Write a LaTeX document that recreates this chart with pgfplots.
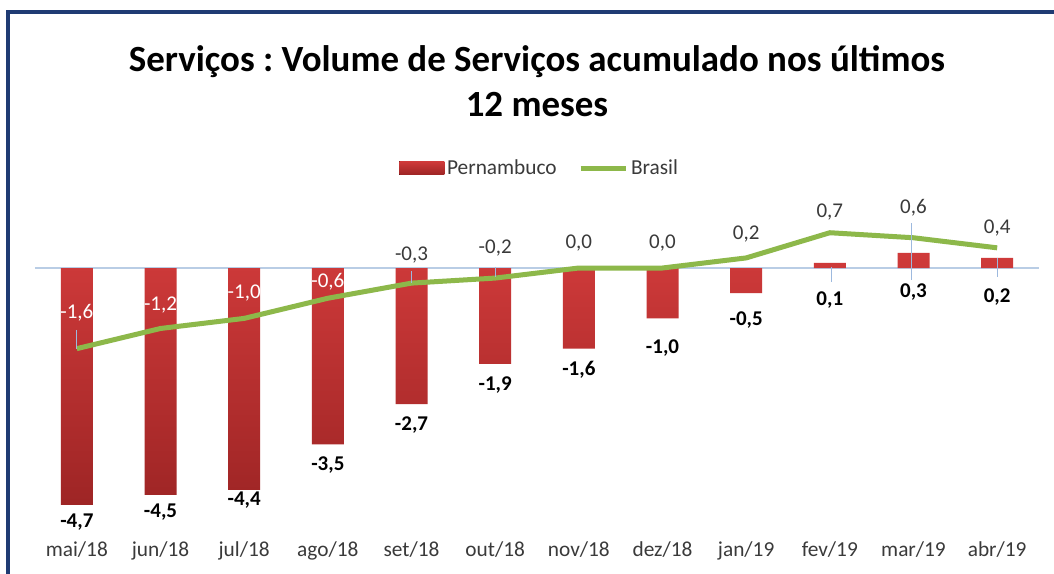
\documentclass[border=0pt]{standalone}
\usepackage{pgfplots}
\usepackage{pgfplotstable}
\pgfplotsset{compat=1.18}
\usepackage{fontspec}
\setmainfont{Carlito}
\frenchspacing
\definecolor{frame}{HTML}{1F3B73}
\definecolor{barTop}{HTML}{CF3A3A}
\definecolor{barBot}{HTML}{9E2525}
\definecolor{brgreen}{HTML}{8DB84A}
\definecolor{zline}{HTML}{B9CDE5}
\definecolor{leader}{HTML}{9DB9DE}
\definecolor{lab}{HTML}{3A3A3A}
\pgfplotstableread{
x pe br pel brl pes brs
0 -4.7 -1.6 -5.04 -0.89 -4,7 -1,6
1 -4.5 -1.2 -4.84 -0.73 -4,5 -1,2
2 -4.4 -1.0 -4.60 -0.50 -4,4 -1,0
3 -3.5 -0.6 -3.91 -0.28 -3,5 -0,6
4 -2.7 -0.3 -3.12 0.26 -2,7 -0,3
5 -1.9 -0.2 -2.32 0.40 -1,9 -0,2
6 -1.6 0.0 -2.02 0.50 -1,6 0,0
7 -1.0 0.0 -1.59 0.50 -1,0 0,0
8 -0.5 0.2 -1.03 0.67 -0,5 0,2
9 0.1 0.7 -0.63 1.11 0,1 0,7
10 0.3 0.6 -0.48 1.19 0,3 0,6
11 0.2 0.4 -0.58 0.79 0,2 0,4
}\data
\begin{document}
\begin{tikzpicture}[x=0.75pt,y=0.75pt]
\useasboundingbox (0,0) rectangle (1054,574);
\fill[white] (0,0) rectangle (1054,574);
\draw[frame, line width=2.5pt] (8,562) rectangle (1080,-30);
\node[font=\fontsize{27.7}{32}\selectfont\bfseries] at (537,512) {Serviços : Volume de Serviços acumulado nos últimos};
\node[font=\fontsize{27.7}{32}\selectfont\bfseries] at (537,469) {12 meses};
\begin{axis}[
  at={(26.25pt,40.5pt)}, anchor=south west,
  scale only axis, width=753pt, height=226.8pt,
  xmin=-0.5, xmax=11.5, ymin=-5, ymax=1,
  clip=false,
  axis line style={draw=none},
  major tick length=0pt,
  ytick=\empty,
  xtick={0,...,11},
  xticklabels={mai/18,jun/18,jul/18,ago/18,set/18,out/18,nov/18,dez/18,jan/19,fev/19,mar/19,abr/19},
  xticklabel style={font=\fontsize{16}{18}\selectfont, text=lab, yshift=-13pt},
  legend style={at={(0.503,1.164)}, anchor=center, draw=none, fill=none,
    legend columns=2, font=\fontsize{16}{18}\selectfont, text=lab,
    /tikz/every even column/.append style={column sep=14pt}},
]
\draw[zline, line width=1pt] (axis cs:-0.5,0) -- (axis cs:11.5,0);
\addplot[ybar, bar width=24pt, draw=none, top color=barTop, bottom color=barBot,
  legend image code/.code={\fill[top color=barTop, bottom color=barBot] (0pt,-4.9pt) rectangle (33.75pt,4.9pt);}]
  table[x=x, y=pe] {\data};
\addlegendentry{Pernambuco}
\addplot[sharp plot, brgreen, line width=3.75pt, mark=none,
  legend image code/.code={\draw[brgreen, line width=3.75pt] (0pt,0pt) -- (34pt,0pt);}]
  table[x=x, y=br] {\data};
\addlegendentry{Brasil}
\draw[leader, line width=0.9pt] (axis cs:0,-1.23) -- (axis cs:0,-1.6);
\draw[leader, line width=0.9pt] (axis cs:4,-0.06) -- (axis cs:4,-0.30);
\draw[leader, line width=0.9pt] (axis cs:5,0.02) -- (axis cs:5,-0.18);
\draw[leader, line width=0.9pt] (axis cs:9.02,0.02) -- (axis cs:9.02,-0.28);
\draw[leader, line width=0.9pt] (axis cs:9.98,0.89) -- (axis cs:9.98,-0.24);
\draw[leader, line width=0.9pt] (axis cs:11,0.20) -- (axis cs:11,-0.18);
\addplot[forget plot, draw=none, mark=none, nodes near coords, point meta=explicit symbolic,
  every node near coord/.append style={anchor=center, text=black, font=\fontsize{15.75}{18}\selectfont\bfseries}]
  table[x=x, y=pel, meta=pes] {\data};
\addplot[forget plot, draw=none, mark=none, nodes near coords, point meta=explicit symbolic,
  every node near coord/.append style={anchor=center, text=white, font=\fontsize{15.75}{18}\selectfont}]
  table[x=x, y=brl, meta=brs, restrict x to domain=0:3] {\data};
\addplot[forget plot, draw=none, mark=none, nodes near coords, point meta=explicit symbolic,
  every node near coord/.append style={anchor=center, text=lab, font=\fontsize{15.75}{18}\selectfont}]
  table[x=x, y=brl, meta=brs, restrict x to domain=4:11] {\data};
\end{axis}
\end{tikzpicture}
\end{document}
